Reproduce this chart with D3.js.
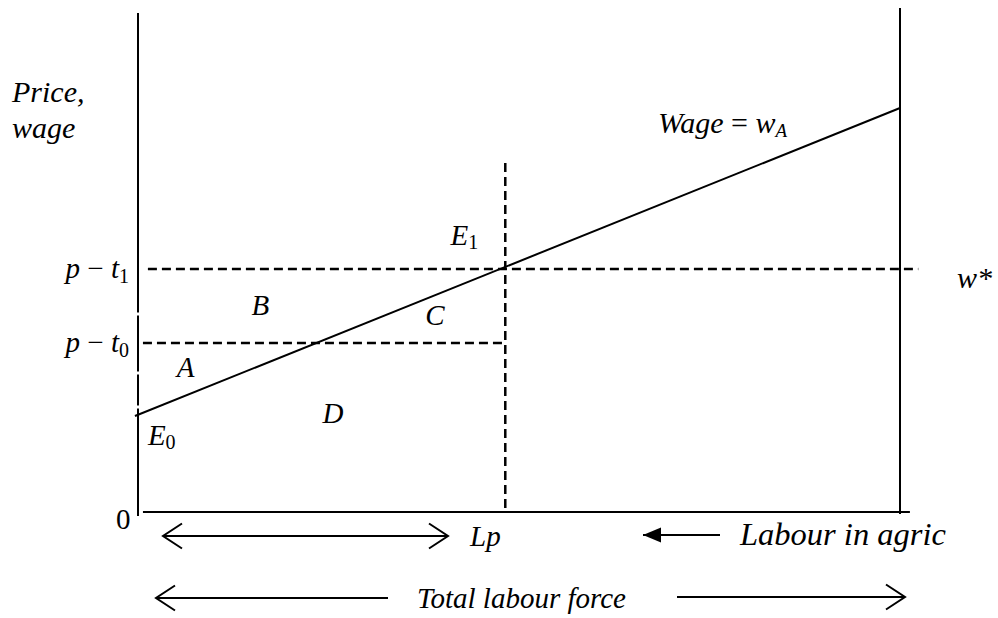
<!DOCTYPE html>
<html>
<head>
<meta charset="utf-8">
<script src="https://cdn.jsdelivr.net/npm/d3@7"></script>
<style>
  body { margin: 0; background: #fff; }
</style>
</head>
<body>
<div id="chart"></div>
<script>
// Werte aus dem Diagramm (Labour 0..100, Lohn 0..10)
let wageLabour = [-0.4, 100];
let wageValues = [1.92, 8.08];
let pLevels = [4.86, 3.38];          // p - t1, p - t0
let pNames = ["1", "0"];
let lp = 48.2;
let lpTop = 6.98;
let axisTop = 10;

// Beschriftungen der Flaechen
let areaNames = ["E", "B", "C", "A", "D", "E"];
let areaSubs = ["1", "", "", "", "", "0"];
let areaLabour = [41.0, 14.9, 37.7, 5.1, 24.2, 1.3];
let areaWage = [5.34, 3.94, 3.74, 2.7, 1.78, 1.34];

let width = 998,
  height = 618;

let x = d3.scaleLinear().domain([0, 100]).range([138, 900]);
let y = d3.scaleLinear().domain([0, 10]).range([512, 12]);

let svg = d3.select("#chart")
  .append("svg")
  .attr("width", width)
  .attr("height", height);

let defs = svg.append("defs");
// offene Pfeilspitze
["open-end", "open-start"].forEach(function(id, i) {
  defs.append("marker")
    .attr("id", id)
    .attr("viewBox", "-20 -14 22 28")
    .attr("refX", 0).attr("refY", 0)
    .attr("markerUnits", "userSpaceOnUse")
    .attr("markerWidth", 22).attr("markerHeight", 28)
    .attr("orient", i == 0 ? "auto" : "auto-start-reverse")
    .append("path")
    .attr("d", "M-19,-12.5L0,0L-19,12.5")
    .attr("fill", "none")
    .attr("stroke", "#000")
    .attr("stroke-width", 2);
});
// gefuellte Pfeilspitze
defs.append("marker")
  .attr("id", "filled")
  .attr("viewBox", "-18 -8 20 16")
  .attr("refX", 0).attr("refY", 0)
  .attr("markerUnits", "userSpaceOnUse")
  .attr("markerWidth", 20).attr("markerHeight", 16)
  .attr("orient", "auto")
  .append("path")
  .attr("d", "M-18,-7.5L0,0L-18,7.5Z")
  .attr("fill", "#000");

let line = d3.line()
  .x(function(d) { return x(d[0]); })
  .y(function(d) { return y(d[1]); });

// Achsen
svg.append("path")
  .attr("d", line([[0, axisTop - 0.02], [0, -0.08]]))
  .attr("stroke", "#000").attr("stroke-width", 2).attr("fill", "none");
svg.append("path")
  .attr("d", line([[100, axisTop + 0.08], [100, -0.04]]))
  .attr("stroke", "#000").attr("stroke-width", 2).attr("fill", "none");
svg.append("path")
  .attr("d", line([[0.65, 0], [101.3, 0]]))
  .attr("stroke", "#000").attr("stroke-width", 2).attr("fill", "none");

// kleine Luecken in der linken Achse
[3.96, 2.78, 2.1].forEach(function(v) {
  svg.append("rect")
    .attr("x", x(0) - 2).attr("y", y(v) - 1.5)
    .attr("width", 4).attr("height", 3)
    .attr("fill", "#fff");
});

// gestrichelte Linien
svg.append("path")
  .attr("d", line([[1.3, pLevels[0]], [102.4, pLevels[0]]]))
  .attr("stroke", "#000").attr("stroke-width", 2.5)
  .attr("stroke-dasharray", "9,5").attr("fill", "none");
svg.append("path")
  .attr("d", line([[0.65, pLevels[1]], [lp - 0.4, pLevels[1]]]))
  .attr("stroke", "#000").attr("stroke-width", 2.5)
  .attr("stroke-dasharray", "9,5").attr("fill", "none");
svg.append("path")
  .attr("d", line([[lp, lpTop], [lp, 0]]))
  .attr("stroke", "#000").attr("stroke-width", 2.5)
  .attr("stroke-dasharray", "9,5").attr("fill", "none");

// Lohnkurve
svg.append("path")
  .attr("d", line(d3.zip(wageLabour, wageValues)))
  .attr("stroke", "#000").attr("stroke-width", 2).attr("fill", "none");

// Beschriftungen
let fs = 29;

function label(xp, yp, size) {
  return svg.append("text")
    .attr("x", xp).attr("y", yp)
    .attr("font-family", "Liberation Serif")
    .attr("font-size", size)
    .attr("fill", "#000");
}

label(12, 102, 30).attr("font-style", "italic").text("Price,");
label(12, 138, 30).attr("font-style", "italic").text("wage");

pLevels.forEach(function(v, i) {
  let t = label(129, y(v) + 9, fs).attr("text-anchor", "end");
  t.append("tspan").attr("font-style", "italic").text("p");
  t.append("tspan").text(" \u2212 ");
  t.append("tspan").attr("font-style", "italic").text("t");
  t.append("tspan").attr("dy", 5).attr("font-size", 20).text(pNames[i]);
});

areaNames.forEach(function(n, i) {
  let t = label(x(areaLabour[i]), y(areaWage[i]), fs);
  t.append("tspan").attr("font-style", "italic").text(n);
  if (areaSubs[i] != "") {
    t.append("tspan").attr("dy", 4).attr("font-size", 20).text(areaSubs[i]);
  }
});

let wl = label(658, 133, 30);
wl.append("tspan").attr("font-style", "italic").text("Wage");
wl.append("tspan").text(" = ");
wl.append("tspan").attr("font-style", "italic").text("w");
wl.append("tspan").attr("dy", 4).attr("font-style", "italic").attr("font-size", 19).text("A");

label(957, 288, 30).attr("font-style", "italic").text("w*");
label(116, 529, fs).text("0");
label(470, 546, fs).attr("font-style", "italic").text("Lp");
label(740, 545, 32.5).attr("font-style", "italic").text("Labour in agric");
label(417, 608, fs).attr("font-style", "italic").text("Total labour force");

// Pfeile
svg.append("line")
  .attr("x1", 163).attr("y1", 536).attr("x2", 448).attr("y2", 536)
  .attr("stroke", "#000").attr("stroke-width", 2)
  .attr("marker-start", "url(#open-start)")
  .attr("marker-end", "url(#open-end)");
svg.append("line")
  .attr("x1", 720).attr("y1", 535).attr("x2", 643).attr("y2", 535)
  .attr("stroke", "#000").attr("stroke-width", 2)
  .attr("marker-end", "url(#filled)");
svg.append("line")
  .attr("x1", 388).attr("y1", 598).attr("x2", 156).attr("y2", 598)
  .attr("stroke", "#000").attr("stroke-width", 2)
  .attr("marker-end", "url(#open-end)");
svg.append("line")
  .attr("x1", 677).attr("y1", 597).attr("x2", 905).attr("y2", 597)
  .attr("stroke", "#000").attr("stroke-width", 2)
  .attr("marker-end", "url(#open-end)");
</script>
</body>
</html>
